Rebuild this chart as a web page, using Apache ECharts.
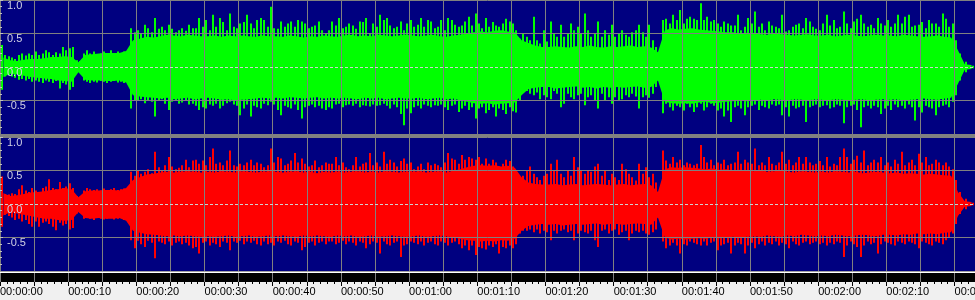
<!DOCTYPE html>
<html><head><meta charset="utf-8">
<script src="https://cdn.jsdelivr.net/npm/echarts@6/dist/echarts.min.js"></script>
<style>html,body{margin:0;padding:0;background:#f0f0f0;overflow:hidden}#c{width:975px;height:300px}</style>
</head><body><div id="c"></div>
<script>
// ---- axis text ----
const TIME_LABELS = ['00:00:00','00:00:10','00:00:20','00:00:30','00:00:40','00:00:50','00:01:00','00:01:10','00:01:20','00:01:30','00:01:40','00:01:50','00:02:00','00:02:10','00:02:20'];
const Y_TICK_VALUES = [1, 0.5, 0, -0.5];
const Y_TICK_LABELS = ['1.0', '0.5', '0.0', '-0.5'];
const DURATION = 143;       // seconds shown
const BODY_STEP = 1;        // seconds per body sample
const PEAK_STEP = 0.5;      // seconds per peak sample

// ---- waveform data (amplitude in percent of full scale) ----
// dense body envelope, one value per second
const GREEN_BODY_MAX = [14,10,9,11,12,12,13,15,15,16, 15,7,18,19,20,21,21,21,24,40, 42,45,44,46,48,47,46,48,47,46, 46,47,45,47,46,47,46,45,47,46, 46,45,47,46,44,46,45,47,46,45, 47,48,46,47,46,48,47,46,47,48, 47,46,47,48,46,45,47,48,50,52, 53,52,54,55,53,52,40,36,32,30, 30,31,30,29,31,30,32,30,29,31, 30,31,32,30,31,29,22,55,58,56, 57,58,56,55,54,53,52,52,50,51, 50,49,48,50,49,48,47,48,49,47, 47,48,46,47,48,47,46,47,48,47, 47,46,48,47,46,45,46,47,45,44, 25,4,3];
const GREEN_BODY_MIN = [-15,-10,-11,-13,-15,-16,-17,-18,-20,-21, -22,-8,-19,-20,-20,-21,-21,-20,-23,-42, -44,-45,-46,-47,-46,-48,-47,-46,-48,-47, -46,-47,-49,-48,-50,-49,-48,-47,-46,-47, -46,-47,-45,-46,-47,-46,-45,-47,-46,-47, -46,-47,-48,-46,-47,-46,-48,-47,-46,-47, -47,-46,-48,-47,-46,-48,-47,-50,-52,-54, -55,-54,-56,-55,-54,-53,-42,-33,-31,-30, -30,-32,-31,-30,-29,-31,-30,-32,-30,-31, -30,-31,-30,-29,-31,-30,-20,-52,-54,-55, -54,-55,-53,-52,-54,-53,-52,-51,-50,-51, -50,-49,-50,-48,-49,-50,-48,-49,-50,-48, -49,-50,-48,-49,-50,-49,-48,-50,-49,-48, -49,-48,-50,-49,-48,-47,-48,-49,-47,-46, -25,-4,-3];
const RED_BODY_MAX = [16,12,13,15,17,18,19,21,22,24, 22,10,19,20,20,21,21,20,24,36, 40,44,45,47,48,47,48,49,48,47, 48,47,49,48,47,49,48,47,48,49, 48,47,48,49,47,48,46,48,47,48, 47,48,49,47,48,47,49,48,47,48, 48,49,47,48,49,47,50,52,55,57, 58,57,58,56,57,54,40,32,30,29, 29,30,28,29,30,28,29,30,29,28, 29,30,28,29,30,28,18,52,55,54, 55,54,53,52,53,51,52,50,51,50, 49,50,48,49,50,48,47,49,48,47, 48,47,49,48,47,48,46,47,48,47, 46,47,45,46,45,44,45,44,43,42, 18,4,3];
const RED_BODY_MIN = [-17,-12,-14,-16,-18,-20,-22,-22,-24,-25, -24,-12,-21,-22,-21,-22,-22,-21,-25,-40, -43,-45,-46,-47,-48,-47,-48,-47,-48,-49, -48,-49,-48,-47,-49,-48,-47,-49,-48,-47, -48,-47,-48,-49,-47,-48,-47,-48,-49,-47, -48,-47,-49,-48,-47,-49,-48,-47,-48,-49, -48,-47,-49,-48,-47,-48,-50,-52,-54,-55, -56,-55,-56,-54,-55,-52,-40,-33,-31,-30, -31,-30,-32,-31,-30,-31,-30,-29,-31,-30, -30,-31,-30,-29,-30,-31,-20,-50,-53,-52, -53,-52,-51,-52,-50,-51,-50,-49,-50,-49, -48,-49,-47,-48,-49,-47,-48,-46,-47,-48, -47,-48,-46,-47,-48,-47,-46,-47,-48,-46, -46,-47,-45,-46,-44,-45,-44,-45,-43,-42, -18,-4,-3];

// peaks, one value per half second
const GREEN_PEAK_MAX = [33,18,16,14,12,18,20,17,20,18,23,18,20,25,22,18,22,20,30,25,
 28,30,10,9,20,25,20,23,18,20,23,20,25,20,23,20,23,21,58,52,
 55,50,63,58,52,73,57,60,55,63,57,52,55,58,54,63,58,
 58,73,60,70,55,78,60,73,67,55,80,60,58,65,67,78,65,58,70,73,70,60,90,58,57,68,60,65,68,60,70,68,65,58,60,62,68,55,50,55,
 68,62,73,58,60,65,62,57,68,67,73,50,65,60,78,70,73,62,58,60,68,55,65,70,60,63,73,60,70,68,58,60,70,55,73,70,63,60,
 62,68,75,62,80,65,58,73,60,67,62,60,65,72,68,65,55,42,50,45,40,75,40,35,55,38,68,50,45,63,45,50,65,55,60,50,80,55,45,50,
 68,45,55,48,63,45,50,55,48,45,52,55,63,52,45,63,40,30,15,70,72,65,78,70,85,65,72,75,72,70,95,70,75,68,70,65,60,68,65,62,
 62,78,55,60,73,65,83,60,65,55,68,62,60,58,78,53,55,60,63,65,58,73,68,60,57,55,65,78,62,70,58,60,83,65,
 58,68,72,78,65,60,63,58,73,65,62,70,60,65,78,65,75,78,60,62,63,67,58,70,65,65,60,80,72,60,65,40,20,5,8,3,2];
const GREEN_PEAK_MIN = [-34,-14,-12,-14,-16,-19,-18,-20,-18,-22,-20,-22,-24,-20,-22,-24,-21,-32,-24,-26,
 -34,-30,-9,-8,-20,-22,-24,-22,-23,-21,-22,-24,-22,-21,-23,-22,-24,-23,-62,-50,
 -50,-48,-54,-50,-52,-74,-50,-48,-55,-64,-52,-50,-55,-53,-50,-56,-55,
 -58,-64,-60,-62,-56,-58,-55,-62,-58,-54,-52,-56,-58,-72,-62,-56,-74,-58,-60,-62,-55,-57,-52,-56,-64,-72,-58,-60,-62,-56,-64,-77,-60,-58,-56,-60,-58,-62,-64,-60,
 -62,-56,-55,-60,-57,-56,-58,-55,-60,-57,-58,-59,-56,-58,-57,-55,-58,-62,-56,-60,-70,-87,-62,-69,-60,-58,-62,-56,-58,-60,-57,-58,-56,-60,-64,-58,-56,-67,
 -62,-58,-64,-60,-77,-62,-60,-69,-64,-60,-74,-62,-64,-70,-60,-66,-68,-50,-38,-36,-40,-42,-38,-48,-42,-45,-48,-36,-40,-60,-55,-40,-45,-48,-42,-40,-57,-45,-42,-50,
 -62,-40,-50,-45,-55,-45,-50,-48,-42,-45,-40,-44,-62,-45,-42,-46,-40,-30,-12,-69,-55,-60,-65,-58,-60,-65,-55,-60,-67,-60,-55,-65,-60,-55,-58,-65,-62,-74,-65,-82,
 -60,-58,-62,-72,-60,-58,-56,-64,-58,-60,-62,-56,-58,-56,-72,-60,-74,-58,-62,-60,-58,-82,-60,-58,-56,-60,-58,-57,-62,-60,-56,-58,-84,-60,
 -58,-56,-64,-90,-60,-58,-62,-58,-60,-70,-62,-58,-64,-56,-60,-58,-62,-56,-60,-80,-60,-68,-58,-60,-62,-72,-60,-58,-56,-60,-52,-42,-20,-5,-8,-3,-2];
const RED_PEAK_MAX = [41,15,14,16,15,22,28,20,18,24,20,17,24,26,37,24,22,33,24,26,
 31,24,12,11,20,24,22,21,22,20,23,21,22,24,21,22,23,21,48,42,
 50,45,48,52,46,78,55,50,58,70,56,52,54,58,66,55,65,
 66,60,65,58,70,83,60,62,58,65,80,58,56,60,58,62,66,58,62,60,55,58,83,62,70,68,58,60,65,76,62,68,60,56,58,65,55,58,62,60,
 60,70,58,62,55,52,58,70,56,60,62,76,58,62,56,78,60,66,62,56,64,68,60,62,52,56,60,52,62,58,60,58,55,62,76,68,66,60,
 73,66,70,68,66,70,60,68,60,66,62,56,60,66,64,56,48,40,42,50,56,45,40,36,42,45,60,50,66,45,40,50,42,70,55,50,45,50,48,56,
 60,42,50,36,45,40,36,60,52,45,40,35,60,45,55,40,45,32,15,80,65,60,70,62,66,58,62,60,58,60,88,70,62,66,58,62,60,66,58,60,
 62,78,60,66,62,60,83,58,62,58,70,60,58,62,78,60,66,58,62,70,60,70,62,58,60,64,58,70,56,60,58,70,83,70,
 60,66,72,62,80,58,62,66,62,70,58,62,56,66,60,78,58,62,66,58,75,62,70,58,60,66,62,58,62,56,52,36,18,6,8,3,2];
const RED_PEAK_MIN = [-34,-16,-18,-20,-24,-22,-26,-24,-30,-34,-26,-34,-28,-26,-30,-34,-39,-28,-32,-30,
 -38,-36,-14,-13,-22,-21,-22,-24,-21,-22,-23,-22,-21,-23,-22,-21,-24,-22,-54,-66,
 -55,-60,-64,-55,-58,-81,-56,-58,-60,-56,-62,-58,-56,-60,-58,-62,-66,
 -64,-74,-58,-56,-62,-58,-60,-64,-56,-58,-69,-56,-58,-55,-60,-56,-58,-55,-60,-62,-56,-60,-58,-62,-56,-58,-55,-60,-62,-56,-58,-69,-64,-58,-56,-62,-58,-56,-60,-56,
 -56,-60,-58,-55,-60,-56,-58,-62,-56,-58,-66,-60,-56,-58,-74,-56,-60,-62,-58,-56,-79,-62,-60,-56,-58,-60,-56,-62,-58,-56,-60,-62,-56,-58,-62,-58,-56,-60,
 -66,-62,-69,-62,-76,-64,-66,-68,-62,-64,-60,-74,-64,-66,-62,-66,-60,-44,-40,-40,-38,-42,-38,-44,-40,-42,-54,-40,-44,-40,-38,-42,-40,-54,-44,-40,-42,-44,-40,-54,
 -64,-40,-38,-44,-40,-38,-46,-42,-40,-54,-44,-40,-42,-40,-44,-46,-42,-38,-18,-56,-66,-62,-58,-62,-74,-60,-62,-56,-58,-60,-62,-56,-62,-58,-56,-69,-62,-60,-58,-74,
 -62,-58,-60,-74,-62,-58,-66,-60,-56,-62,-58,-60,-56,-62,-58,-60,-66,-56,-60,-62,-58,-56,-60,-58,-56,-60,-58,-62,-58,-60,-56,-58,-79,-62,
 -56,-60,-64,-79,-62,-56,-60,-58,-74,-60,-56,-58,-60,-62,-56,-58,-60,-56,-58,-60,-66,-56,-58,-60,-62,-56,-58,-60,-54,-50,-44,-30,-15,-5,-8,-3,-2];

// ---- styles ----
const NAVY = '#000080', GRID = '#808080', GREEN = '#00ff00', RED = '#ff0000';
const FONT = 'Liberation Sans, Arial, sans-serif';

function bodyData(arr) { return arr.map((v, k) => [k * BODY_STEP + BODY_STEP / 2, v / 100]); }
function peakData(hi, lo) { return hi.map((v, i) => [i * PEAK_STEP + PEAK_STEP / 2, v / 100, lo[i] / 100]); }
function yLabel(v) { const i = Y_TICK_VALUES.indexOf(Math.round(v * 100) / 100); return i < 0 ? '' : Y_TICK_LABELS[i]; }

function spikeRenderer(color) {
  return function (params, api) {
    const t = api.value(0);
    const top = api.coord([t, api.value(1)]);
    const bot = api.coord([t, api.value(2)]);
    return { type: 'rect', shape: { x: Math.round(top[0]) - 1, y: top[1], width: 2, height: bot[1] - top[1] }, style: { fill: color } };
  };
}

function panelX(idx) {
  return { type: 'value', gridIndex: idx, min: 0, max: DURATION, interval: 5, z: 3,
    axisLine: { show: false }, axisTick: { show: false }, axisLabel: { show: false },
    splitLine: { show: true, lineStyle: { color: GRID, width: 1 } } };
}
function panelY(idx) {
  return { type: 'value', gridIndex: idx, min: -1, max: 1, interval: 0.5, z: 3,
    axisLine: { show: false },
    axisTick: { show: true, inside: true, length: 3, lineStyle: { color: '#c0c0c0' } },
    minorTick: { show: true, splitNumber: 5, length: 2, lineStyle: { color: '#c0c0c0' } },
    axisLabel: { inside: true, margin: 7, verticalAlign: 'top', color: '#d0d0e4', fontSize: 11, fontFamily: FONT, formatter: yLabel },
    splitLine: { show: true, lineStyle: { color: [GRID, GRID, 'rgba(0,0,0,0)', GRID, GRID], width: 1 } } };
}
function channel(idx, bodyMax, bodyMin, peakMax, peakMin, color) {
  const area = { color: color, opacity: 1 };
  return [
    { type: 'line', xAxisIndex: idx, yAxisIndex: idx, data: bodyData(bodyMax), showSymbol: false, silent: true,
      lineStyle: { width: 0 }, areaStyle: area, z: 2,
      markLine: { silent: true, symbol: ['none', 'none'], label: { show: false }, z: 5,
        lineStyle: { color: '#d0d0d0', type: [3, 2], width: 1 }, data: [{ yAxis: 0 }] } },
    { type: 'line', xAxisIndex: idx, yAxisIndex: idx, data: bodyData(bodyMin), showSymbol: false, silent: true,
      lineStyle: { width: 0 }, areaStyle: area, z: 2 },
    { type: 'custom', xAxisIndex: idx, yAxisIndex: idx, data: peakData(peakMax, peakMin), silent: true,
      encode: { x: 0, y: [1, 2] }, renderItem: spikeRenderer(color), z: 2 }
  ];
}

const chart = echarts.init(document.getElementById('c'), null, { renderer: 'canvas' });
chart.setOption({
  animation: false,
  backgroundColor: '#f0f0f0',
  grid: [
    { left: 0, top: 0, width: 975, height: 134, show: true, backgroundColor: NAVY, borderWidth: 0, outerBoundsMode: 'none', containLabel: false },
    { left: 0, top: 137, width: 975, height: 134, show: true, backgroundColor: NAVY, borderWidth: 0, outerBoundsMode: 'none', containLabel: false },
    { left: 0, top: 273, width: 975, height: 9, show: true, backgroundColor: '#000000', borderWidth: 0, outerBoundsMode: 'none', containLabel: false }
  ],
  xAxis: [
    panelX(0), panelX(1),
    { type: 'value', gridIndex: 2, min: 0, max: DURATION, interval: 5, position: 'bottom',
      axisLine: { show: false },
      axisTick: { show: true, length: 4, lineStyle: { color: '#000' } },
      minorTick: { show: true, splitNumber: 5, length: 2, lineStyle: { color: '#000' } },
      splitLine: { show: true, lineStyle: { color: GRID, width: 1 } },
      axisLabel: { show: true, margin: 4, align: 'left', color: '#000', fontSize: 11, fontFamily: FONT,
        formatter: v => (v % 10 === 0 ? (TIME_LABELS[v / 10] || '') : '') } }
  ],
  yAxis: [ panelY(0), panelY(1), { type: 'value', gridIndex: 2, show: false, min: 0, max: 1 } ],
  graphic: [
    { type: 'rect', shape: { x: 0, y: 134, width: 975, height: 3 }, style: { fill: GRID }, z: 20, silent: true },
    { type: 'rect', shape: { x: 0, y: 271, width: 975, height: 1 }, style: { fill: '#a0a0a0' }, z: 20, silent: true },
    { type: 'rect', shape: { x: 0, y: 272, width: 975, height: 1 }, style: { fill: '#ffffff' }, z: 20, silent: true }
  ],
  series: [].concat(
    channel(0, GREEN_BODY_MAX, GREEN_BODY_MIN, GREEN_PEAK_MAX, GREEN_PEAK_MIN, GREEN),
    channel(1, RED_BODY_MAX, RED_BODY_MIN, RED_PEAK_MAX, RED_PEAK_MIN, RED)
  )
});
</script></body></html>
